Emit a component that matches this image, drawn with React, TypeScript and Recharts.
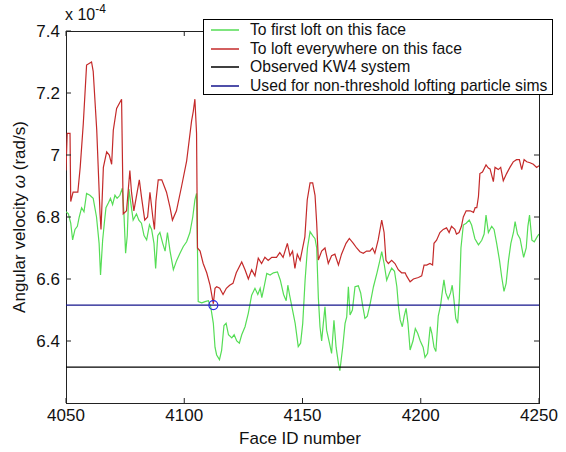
import React from 'react';
import { LineChart, Line, XAxis, YAxis, Legend, ReferenceDot } from 'recharts';

const FONT = '"Liberation Sans", Arial, Helvetica, sans-serif';

// Plot frame (pixels) used for the boxed, inward-facing tick marks
const PLOT_TOP = 31;
const PLOT_BOTTOM = 403;
const PLOT_LEFT = 66;
const PLOT_RIGHT = 539;
const TICK_LEN = 5;
const AXIS_COLOR = '#222';

// Axis setup (angular velocity in units of 1e-4 rad/s)
const X_DOMAIN: [number, number] = [4050, 4250];
const X_TICKS = [4050, 4100, 4150, 4200, 4250];
const Y_DOMAIN: [number, number] = [6.2, 7.4];
const Y_TICKS = [6.4, 6.6, 6.8, 7.0, 7.2, 7.4];

// Spin rate needed for the first particle to loft on each face
const greenFace = [
  4050, 4051, 4052, 4052.8, 4053.8, 4054.8, 4055.6, 4056.6, 4057.6, 4058.7,
  4060.1, 4061.5, 4062.9, 4064, 4064.6, 4065.5, 4066.2, 4066.9, 4067.9, 4068.8,
  4069.7, 4070.7, 4071.6, 4072.8, 4073.8, 4074.5, 4075.2, 4075.9, 4076.6, 4077.4,
  4078.4, 4079.8, 4080.8, 4081.9, 4083, 4084.1, 4085.3, 4086.2, 4087.2, 4087.9,
  4088.8, 4089.7, 4090.9, 4091.9, 4092.9, 4094, 4095.4, 4096.8, 4098.2, 4099.6,
  4101, 4102.4, 4103.6, 4104.5, 4105.2, 4105.6, 4105.9, 4107.4, 4108.8, 4110.2,
  4111.2, 4112.3, 4113, 4113.7, 4114.9, 4115.8, 4116.8, 4117.7, 4118.7, 4120.1,
  4121.1, 4122.2, 4123.3, 4124.3, 4125.7, 4127.1, 4128.5, 4129.9, 4131.1, 4132.1,
  4132.8, 4133.8, 4134.9, 4136.3, 4137.7, 4139.4, 4140.6, 4142, 4143.1, 4143.8,
  4144.5, 4145.5, 4146.9, 4148.2, 4149.2, 4150.1, 4151.1, 4152.1, 4153.2, 4154.3,
  4155.3, 4156, 4156.7, 4157.4, 4158.1, 4158.8, 4159.5, 4160.2, 4161.4, 4162.3,
  4163.3, 4164.2, 4165.2, 4165.8, 4167, 4168, 4168.7, 4169.4, 4170.1, 4171.1,
  4172.2, 4173.6, 4174.6, 4175.4, 4176.4, 4177.4, 4178.6, 4180, 4181.5, 4182.6,
  4183.5, 4184.5, 4185.6, 4186.8, 4187.7, 4188.9, 4189.9, 4190.6, 4191.3, 4192.2,
  4193, 4193.8, 4194.6, 4195.5, 4196.7, 4197.7, 4198.7, 4199.8, 4201, 4201.8,
  4202.9, 4204, 4204.7, 4205.6, 4206.4, 4207.4, 4208.4, 4209.3, 4209.8, 4210.6,
  4211.6, 4212.6, 4213.3, 4214, 4214.8, 4215.6, 4216.3, 4217, 4218, 4219.2,
  4220.5, 4221.5, 4222.9, 4224.4, 4225.8, 4226.8, 4227.6, 4228.6, 4230, 4231,
  4232.1, 4233.3, 4234.2, 4235.2, 4236.1, 4237.1, 4238.1, 4239.2, 4239.9, 4240.9,
  4242, 4243.5, 4244.6, 4245.3, 4246, 4247, 4248, 4249.2, 4250,
];
const greenOmega = [
  6.817, 6.81, 6.78, 6.726, 6.76, 6.77, 6.8, 6.83, 6.817, 6.876,
  6.87, 6.86, 6.8, 6.715, 6.613, 6.726, 6.78, 6.83, 6.845, 6.86,
  6.84, 6.87, 6.86, 6.87, 6.893, 6.81, 6.683, 6.74, 6.89, 6.845,
  6.79, 6.81, 6.79, 6.78, 6.74, 6.726, 6.775, 6.76, 6.715, 6.634,
  6.74, 6.75, 6.715, 6.69, 6.75, 6.69, 6.63, 6.66, 6.683, 6.705,
  6.72, 6.75, 6.8, 6.855, 6.876, 6.69, 6.527, 6.523, 6.527, 6.53,
  6.51, 6.457, 6.38, 6.355, 6.34, 6.37, 6.45, 6.457, 6.42, 6.41,
  6.42, 6.4, 6.393, 6.42, 6.446, 6.49, 6.548, 6.57, 6.55, 6.57,
  6.54, 6.576, 6.618, 6.613, 6.62, 6.623, 6.597, 6.55, 6.53, 6.58,
  6.55, 6.511, 6.457, 6.382, 6.393, 6.457, 6.597, 6.7, 6.753, 6.74,
  6.73, 6.7, 6.54, 6.446, 6.4, 6.457, 6.51, 6.435, 6.393, 6.36,
  6.467, 6.38, 6.328, 6.304, 6.38, 6.457, 6.478, 6.575, 6.484, 6.5,
  6.575, 6.578, 6.555, 6.516, 6.473, 6.48, 6.52, 6.575, 6.62, 6.656,
  6.688, 6.65, 6.596, 6.62, 6.635, 6.625, 6.575, 6.51, 6.468, 6.446,
  6.48, 6.505, 6.457, 6.371, 6.4, 6.44, 6.425, 6.4, 6.38, 6.347,
  6.36, 6.446, 6.425, 6.38, 6.366, 6.48, 6.516, 6.57, 6.597, 6.555,
  6.535, 6.555, 6.58, 6.535, 6.473, 6.457, 6.535, 6.7, 6.774, 6.78,
  6.79, 6.774, 6.73, 6.71, 6.725, 6.745, 6.806, 6.75, 6.77, 6.76,
  6.715, 6.66, 6.608, 6.56, 6.586, 6.66, 6.715, 6.75, 6.785, 6.745,
  6.73, 6.67, 6.7, 6.77, 6.806, 6.725, 6.72, 6.736, 6.745,
];

// Spin rate needed for lofting everywhere on each face
const redFace = [
  4050, 4050.5, 4051.7, 4052, 4053, 4055, 4056, 4057.3, 4058.7, 4060.8,
  4061.5, 4063, 4064.4, 4064.8, 4065.8, 4067.2, 4068.3, 4069.3, 4070, 4071.4,
  4073.5, 4074.2, 4075.6, 4077, 4077.7, 4078.7, 4081, 4082, 4083.3, 4084.5,
  4085.5, 4086.7, 4087.4, 4088, 4089, 4090.5, 4091.5, 4092.5, 4094, 4095,
  4096.7, 4098.9, 4101, 4103.1, 4103.8, 4104.5, 4105.2, 4105.6, 4106.7, 4108,
  4109.5, 4110.9, 4112.3, 4113, 4113.7, 4115, 4116.4, 4117.8, 4119.2, 4120.6,
  4122, 4124.3, 4125.7, 4127.1, 4128.5, 4129.9, 4131.3, 4132.7, 4134.1, 4135.5,
  4137, 4139, 4140.4, 4141.8, 4143.6, 4144.7, 4145.8, 4146.8, 4147.8, 4149,
  4151, 4152, 4153.2, 4154.3, 4155.3, 4156, 4156.7, 4158.1, 4159.5, 4160.9,
  4162.3, 4163.7, 4165.2, 4166.5, 4168.4, 4169.8, 4171.5, 4172.9, 4174.3, 4175.7,
  4177.1, 4178.5, 4179.6, 4180.6, 4182, 4183.5, 4184.5, 4185.3, 4186.3, 4187.7,
  4189.1, 4190.5, 4191.9, 4193.4, 4194, 4195.5, 4196.9, 4199, 4200.4, 4201.4,
  4202.5, 4203.9, 4205, 4205.6, 4206.7, 4208.1, 4209.5, 4210.9, 4212, 4213,
  4214.4, 4215.1, 4216.2, 4217.2, 4218, 4219.2, 4220.9, 4222.3, 4223, 4223.7,
  4224.4, 4225, 4226.1, 4227.6, 4228.6, 4229.3, 4230.7, 4231.4, 4232.8, 4233.8,
  4234.9, 4236.3, 4237.7, 4239.1, 4240.5, 4241.7, 4242.7, 4243.7, 4244.8, 4246.2,
  4247.6, 4249, 4250,
];
const redOmega = [
  6.95, 7.07, 7.07, 6.85, 6.88, 6.88, 6.96, 7.1, 7.29, 7.3,
  7.27, 7.08, 6.81, 6.76, 6.96, 7.01, 7.0, 6.97, 7.08, 7.15,
  7.18, 6.81, 6.82, 6.95, 6.88, 6.82, 6.92, 6.86, 6.79, 6.8,
  6.88, 6.8, 6.76, 6.85, 6.92, 6.92, 6.9, 6.88, 6.83, 6.79,
  6.82, 6.9, 6.98, 7.11, 7.14, 7.18, 7.07, 6.7, 6.69, 6.65,
  6.62, 6.58, 6.52, 6.57, 6.575, 6.57, 6.55, 6.57, 6.58, 6.586,
  6.62, 6.655, 6.63, 6.6, 6.63, 6.61, 6.667, 6.65, 6.67, 6.66,
  6.67, 6.67, 6.685, 6.67, 6.715, 6.675, 6.69, 6.634, 6.68, 6.66,
  6.736, 6.855, 6.91, 6.91, 6.87, 6.78, 6.661, 6.69, 6.7, 6.65,
  6.675, 6.68, 6.645, 6.68, 6.715, 6.731, 6.715, 6.7, 6.688, 6.683,
  6.69, 6.69, 6.7, 6.683, 6.726, 6.79, 6.75, 6.66, 6.65, 6.66,
  6.65, 6.63, 6.62, 6.62, 6.61, 6.591, 6.6, 6.605, 6.61, 6.645,
  6.645, 6.65, 6.645, 6.715, 6.725, 6.75, 6.76, 6.765, 6.75, 6.77,
  6.76, 6.745, 6.75, 6.77, 6.8, 6.82, 6.82, 6.815, 6.83, 6.83,
  6.866, 6.94, 6.945, 6.968, 6.958, 6.955, 6.914, 6.96, 6.953, 6.96,
  6.917, 6.94, 6.96, 6.978, 6.985, 6.985, 6.953, 6.985, 6.978, 6.975,
  6.97, 6.96, 6.965,
];

// Constant spin rates
const OBSERVED_KW4 = 6.316;
const NON_THRESHOLD = 6.516;
const CROSSING_FACE = 4112.3;

const NAMES = [
  'To first loft on this face',
  'To loft everywhere on this face',
  'Observed KW4 system',
  'Used for non-threshold lofting particle sims',
];

const COLORS = {
  green: '#55dd55',
  red: '#c42a2a',
  black: '#000000',
  blue: '#14148c',
};

const toPoints = (faces: number[], omegas: number[]) =>
  faces.map((face, i) => ({ face, omega: omegas[i] }));

const greenData = toPoints(greenFace, greenOmega);
const redData = toPoints(redFace, redOmega);
const kw4Data = toPoints(X_DOMAIN, [OBSERVED_KW4, OBSERVED_KW4]);
const simData = toPoints(X_DOMAIN, [NON_THRESHOLD, NON_THRESHOLD]);

const fmtY = (v: number) => String(Number(v.toFixed(1)));

// Bottom tick: label plus inward marks on the bottom and top edges of the box
const XTick = (props: any) => {
  const { x, y, payload } = props;
  return (
    <g>
      <line x1={x} x2={x} y1={PLOT_BOTTOM} y2={PLOT_BOTTOM - TICK_LEN} stroke={AXIS_COLOR} strokeWidth={1} />
      <line x1={x} x2={x} y1={PLOT_TOP} y2={PLOT_TOP + TICK_LEN} stroke={AXIS_COLOR} strokeWidth={1} />
      <text x={x} y={y} dy="0.71em" textAnchor="middle" fontFamily={FONT} fontSize={17} fill="#111">
        {payload.value}
      </text>
    </g>
  );
};

// Left tick: label plus inward marks on the left and right edges of the box
const YTick = (props: any) => {
  const { x, y, payload } = props;
  return (
    <g>
      <line x1={PLOT_LEFT} x2={PLOT_LEFT + TICK_LEN} y1={y} y2={y} stroke={AXIS_COLOR} strokeWidth={1} />
      <line x1={PLOT_RIGHT} x2={PLOT_RIGHT - TICK_LEN} y1={y} y2={y} stroke={AXIS_COLOR} strokeWidth={1} />
      <text x={x} y={y} dy="0.355em" textAnchor="end" fontFamily={FONT} fontSize={17} fill="#111">
        {fmtY(payload.value)}
      </text>
    </g>
  );
};

const YTitle = () => (
  <text
    x={19}
    y={217}
    transform="rotate(-90 19 217)"
    textAnchor="middle"
    dominantBaseline="central"
    fontFamily={FONT}
    fontSize={17}
    fill="#111"
  >
    Angular velocity <tspan fontStyle="italic">ω</tspan> (rad/s)
  </text>
);

const XTitle = () => (
  <text x={300} y={444} textAnchor="middle" fontFamily={FONT} fontSize={17} fill="#111">
    Face ID number
  </text>
);

const LegendBox = (props: any) => {
  const payload = [...(props.payload || [])].sort(
    (a: any, b: any) => NAMES.indexOf(a.value) - NAMES.indexOf(b.value),
  );
  return (
    <div
      style={{
        width: 350,
        height: 76,
        boxSizing: 'border-box',
        border: '1px solid #000',
        background: '#fff',
        paddingTop: 1,
        fontFamily: FONT,
        fontSize: 15.7,
        color: '#111',
      }}
    >
      {payload.map((entry: any) => (
        <div
          key={entry.value}
          style={{ display: 'flex', alignItems: 'center', height: 18.6, whiteSpace: 'nowrap' }}
        >
          <svg width={46} height={10} style={{ flex: 'none' }}>
            <line x1={7} x2={35} y1={5} y2={5} stroke={entry.color} strokeWidth={1.5} />
          </svg>
          <span>{entry.value}</span>
        </div>
      ))}
    </div>
  );
};

export default function App() {
  return (
    <div style={{ position: 'absolute', left: 0, top: 0, width: 566, height: 452, background: '#fff' }}>
      {/* axes box, painted beneath the chart so the legend covers it */}
      <div
        style={{
          position: 'absolute',
          left: PLOT_LEFT,
          top: PLOT_TOP,
          width: PLOT_RIGHT - PLOT_LEFT + 1,
          height: PLOT_BOTTOM - PLOT_TOP + 1,
          boxSizing: 'border-box',
          border: `1px solid ${AXIS_COLOR}`,
          pointerEvents: 'none',
        }}
      />
      <LineChart
        width={566}
        height={452}
        margin={{ top: PLOT_TOP, right: 566 - PLOT_RIGHT, bottom: 0, left: 0 }}
        style={{ fontFamily: FONT }}
      >
        <XAxis
          dataKey="face"
          type="number"
          domain={X_DOMAIN}
          ticks={X_TICKS}
          allowDataOverflow
          height={452 - PLOT_BOTTOM}
          tickSize={-TICK_LEN}
          tickMargin={11}
          tick={<XTick />}
          tickLine={false}
          axisLine={false}
          label={<XTitle />}
        />
        <YAxis
          type="number"
          domain={Y_DOMAIN}
          ticks={Y_TICKS}
          allowDataOverflow
          width={PLOT_LEFT}
          tickSize={-TICK_LEN}
          tickMargin={11}
          tick={<YTick />}
          tickLine={false}
          axisLine={false}
          label={<YTitle />}
        />
        <Line
          data={greenData}
          dataKey="omega"
          name={NAMES[0]}
          type="linear"
          stroke={COLORS.green}
          strokeWidth={1.2}
          dot={false}
          activeDot={false}
          isAnimationActive={false}
        />
        <Line
          data={redData}
          dataKey="omega"
          name={NAMES[1]}
          type="linear"
          stroke={COLORS.red}
          strokeWidth={1.2}
          dot={false}
          activeDot={false}
          isAnimationActive={false}
        />
        <Line
          data={kw4Data}
          dataKey="omega"
          name={NAMES[2]}
          type="linear"
          stroke={COLORS.black}
          strokeWidth={1.2}
          dot={false}
          activeDot={false}
          isAnimationActive={false}
        />
        <Line
          data={simData}
          dataKey="omega"
          name={NAMES[3]}
          type="linear"
          stroke={COLORS.blue}
          strokeWidth={1.2}
          dot={false}
          activeDot={false}
          isAnimationActive={false}
        />
        <ReferenceDot
          x={CROSSING_FACE}
          y={NON_THRESHOLD}
          r={4.5}
          fill="none"
          stroke="#2a2ae0"
          strokeWidth={1.2}
        />
        <Legend
          layout="vertical"
          align="center"
          verticalAlign="middle"
          content={<LegendBox />}
          wrapperStyle={{ top: 19, left: 203, width: 350, height: 76 }}
        />
      </LineChart>
      <div
        style={{
          position: 'absolute',
          left: 65,
          top: 6,
          fontFamily: FONT,
          fontSize: 16,
          color: '#111',
          whiteSpace: 'nowrap',
          lineHeight: '18px',
        }}
      >
        x 10<sup style={{ fontSize: 12, verticalAlign: 'top', position: 'relative', top: -6 }}>-4</sup>
      </div>
    </div>
  );
}
